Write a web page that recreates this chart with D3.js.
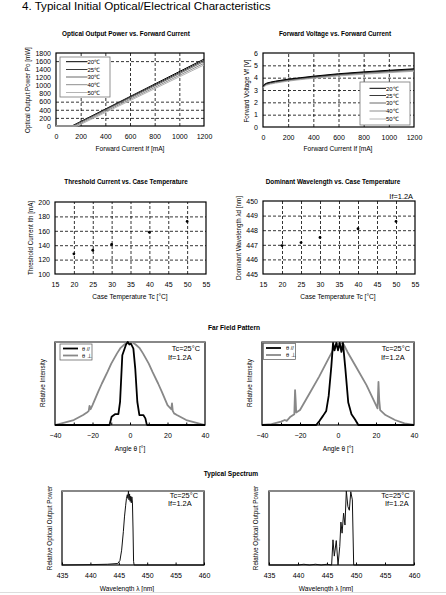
<!DOCTYPE html>
<html>
<head>
<meta charset="utf-8">
<script src="https://cdn.jsdelivr.net/npm/d3@7"></script>
<style>
  body { margin: 0; background: #fff; }
  text { font-family: "Liberation Sans", Arial, sans-serif; fill: #000; }
</style>
</head>
<body>
<div id="chart"></div>
<script>
// ---- data ----
var tempLabels = ["20℃", "25℃", "30℃", "40℃", "50℃"];
var tempColors = ["#000", "#3a3a3a", "#6a6a6a", "#8e8e8e", "#b4b4b4"];

// optical output power vs forward current (threshold, power at 1200 mA)
var caseTemps = [20, 25, 30, 40, 50];
var thresholdCurrent = [128, 133, 141, 158, 173];
var powerAt1200 = [1650, 1620, 1590, 1545, 1505];

// forward voltage vs forward current
var vfCurrent = [2, 10, 30, 60, 100, 200, 300, 400, 600, 800, 1000, 1200];
var vf20 = [3.30, 3.45, 3.56, 3.64, 3.72, 3.88, 4.00, 4.12, 4.32, 4.47, 4.60, 4.72];
var vf25 = [3.28, 3.42, 3.53, 3.61, 3.69, 3.85, 3.97, 4.08, 4.28, 4.43, 4.56, 4.68];
var vf30 = [3.25, 3.39, 3.50, 3.58, 3.66, 3.82, 3.94, 4.05, 4.25, 4.40, 4.52, 4.64];
var vf40 = [3.20, 3.34, 3.45, 3.53, 3.61, 3.77, 3.89, 4.00, 4.20, 4.34, 4.46, 4.58];
var vf50 = [3.15, 3.29, 3.40, 3.48, 3.56, 3.72, 3.84, 3.95, 4.14, 4.28, 4.40, 4.52];

// dominant wavelength vs case temperature
var dominantWl = [446.95, 447.15, 447.5, 448.1, 448.6];

// far field pattern, left sample
var ffAngleParL = [-40, -11, -10.7, -9.8, -8, -6.2, -5.3, -4.1, -2.1, -1.2, -0.35, 0.5, 1.8, 2.8, 3.9, 5, 7.1, 8.2, 8.9, 9.2, 40];
var ffParL = [0, 0, 0.02, 0.1, 0.13, 0.13, 0.28, 0.84, 0.97, 1.0, 0.97, 0.98, 0.92, 0.68, 0.28, 0.12, 0.12, 0.08, 0.01, 0, 0];
var ffAnglePerpL = [-40, -35, -30, -25, -23, -22, -21.6, -21, -20, -17, -15, -12, -10, -7, -5, -3, -1, 0, 1, 3, 5, 7, 10, 12, 15, 17, 20, 22, 22.4, 22.8, 23.5, 25, 30, 35, 40];
var ffPerpL = [0, 0.03, 0.06, 0.12, 0.15, 0.17, 0.23, 0.19, 0.24, 0.4, 0.5, 0.64, 0.74, 0.86, 0.93, 0.97, 1.0, 1.0, 1.0, 0.97, 0.93, 0.86, 0.74, 0.64, 0.5, 0.4, 0.24, 0.19, 0.26, 0.17, 0.14, 0.12, 0.06, 0.03, 0];

// far field pattern, right sample
var ffAngleParR = [-40, -11.5, -9.7, -7.9, -6.2, -4.9, -3.5, -2.6, -1.8, -0.9, 0, 0.9, 1.8, 2.6, 3.9, 5.4, 7.1, 8.9, 10.7, 40];
var ffParR = [0, 0, 0.05, 0.11, 0.17, 0.35, 0.71, 0.99, 0.9, 0.99, 0.9, 0.99, 0.88, 0.99, 0.67, 0.27, 0.13, 0.07, 0, 0];
var ffAnglePerpR = [-40, -35, -30, -28, -27, -25, -23, -22.6, -22.3, -22, -20, -15, -10, -5, -2, 0, 1, 3, 5, 10, 15, 20, 20.8, 21.3, 21.7, 22.2, 25, 30, 35, 40];
var ffPerpR = [0, 0.01, 0.04, 0.06, 0.05, 0.1, 0.13, 0.42, 0.3, 0.15, 0.18, 0.38, 0.58, 0.8, 0.93, 0.99, 1.0, 0.97, 0.88, 0.68, 0.48, 0.24, 0.2, 0.52, 0.3, 0.18, 0.12, 0.06, 0.02, 0];

// typical spectrum
var specWlL = [435, 440, 443, 444.8, 445.2, 445.5, 445.8, 446.0, 446.2, 446.35, 446.5, 446.6, 446.7, 446.8, 446.9, 447.0, 447.1, 447.2, 447.3, 447.4, 447.5, 447.6, 447.7, 460];
var specL = [0, 0.005, 0.01, 0.02, 0.06, 0.2, 0.45, 0.65, 0.8, 0.9, 0.95, 0.9, 1.0, 0.88, 0.96, 0.86, 0.93, 0.84, 0.92, 0.85, 0.5, 0.05, 0, 0];
var specWlR = [435, 440, 441, 442, 443, 444, 445, 445.8, 446.03, 446.26, 446.6, 446.9, 447.2, 447.4, 447.6, 447.86, 448.1, 448.33, 448.6, 448.85, 449.1, 449.37, 449.6, 449.8, 460];
var specR = [0, 0, 0.01, 0, 0.01, 0, 0.01, 0, 0.34, 0.12, 0.33, 0, 0.25, 0.58, 0.43, 0.7, 0.54, 1.0, 0.79, 0.74, 0.99, 0.88, 0, 0, 0];

// axis ticks
var currentTicks = [0, 200, 400, 600, 800, 1000, 1200];
var powerTicks = [0, 200, 400, 600, 800, 1000, 1200, 1400, 1600, 1800];
var powerGrid = [200, 400, 600, 1600];
var voltTicks = [0, 1, 2, 3, 4, 5, 6];
var tempTicks = [15, 20, 25, 30, 35, 40, 45, 50, 55];
var ithTicks = [100, 120, 140, 160, 180, 200];
var wlTicks = [445, 446, 447, 448, 449, 450];
var angleTicks = [-40, -20, 0, 20, 40];
var angleMinor = [-30, -20, -10, 0, 10, 20, 30];
var specTicks = [435, 440, 445, 450, 455, 460];

var svg = d3.select("#chart").append("svg")
  .attr("width", 446)
  .attr("height", 595);

svg.append("text")
  .attr("x", 22).attr("y", 10)
  .style("font-size", "11.6px")
  .text("4. Typical Initial Optical/Electrical Characteristics");

// builds one framed plot, returns scales
function panel(c) {
  var x = d3.scaleLinear().domain(c.xDomain).range([c.left, c.right]);
  var y = d3.scaleLinear().domain(c.yDomain).range([c.bottom, c.top]);
  var g = svg.append("g");
  var w = c.right - c.left, h = c.bottom - c.top;

  if (c.xGrid) {
    g.append("g")
      .attr("transform", "translate(0," + c.bottom + ")")
      .call(d3.axisBottom(x).tickValues(c.xGrid).tickSize(-h).tickFormat(""))
      .call(function(a) {
        a.select(".domain").remove();
        a.selectAll("line").attr("stroke", "#000").attr("stroke-width", 0.8).attr("stroke-dasharray", "3,2");
      });
  }
  if (c.yGrid) {
    g.append("g")
      .attr("transform", "translate(" + c.left + ",0)")
      .call(d3.axisLeft(y).tickValues(c.yGrid).tickSize(-w).tickFormat(""))
      .call(function(a) {
        a.select(".domain").remove();
        a.selectAll("line").attr("stroke", "#000").attr("stroke-width", 0.8).attr("stroke-dasharray", "3,2");
      });
  }
  if (c.xMinor) {
    g.append("g")
      .attr("transform", "translate(0," + c.bottom + ")")
      .call(d3.axisBottom(x).tickValues(c.xMinor).tickSize(-2.5).tickFormat(""))
      .call(function(a) { a.select(".domain").remove(); a.selectAll("line").attr("stroke", "#000"); });
  }

  // tick labels
  g.append("g")
    .attr("transform", "translate(0," + c.bottom + ")")
    .call(d3.axisBottom(x).tickValues(c.xTicks).tickSize(0).tickPadding(8.5).tickFormat(d3.format("d")))
    .call(function(a) {
      a.select(".domain").remove();
      a.selectAll("text").style("font-size", "7px").attr("font-family", null);
    });
  if (c.yTicks) {
    g.append("g")
      .attr("transform", "translate(" + c.left + ",0)")
      .call(d3.axisLeft(y).tickValues(c.yTicks).tickSize(0).tickPadding(5).tickFormat(d3.format("d")))
      .call(function(a) {
        a.select(".domain").remove();
        a.selectAll("text").style("font-size", "7px").attr("font-family", null);
      });
  }

  g.append("rect")
    .attr("x", c.left).attr("y", c.top)
    .attr("width", w).attr("height", h)
    .attr("fill", "none").attr("stroke", "#000").attr("stroke-width", 1.2);

  if (c.title) {
    svg.append("text")
      .attr("x", c.titleX).attr("y", c.titleY)
      .attr("text-anchor", "middle")
      .style("font-size", "6.4px").style("font-weight", "bold")
      .text(c.title);
  }
  svg.append("text")
    .attr("x", c.xLabelX).attr("y", c.xLabelY)
    .attr("text-anchor", "middle")
    .style("font-size", "6.6px")
    .text(c.xLabel);
  svg.append("text")
    .attr("transform", "translate(" + c.yLabelX + "," + c.yLabelY + ") rotate(-90)")
    .attr("text-anchor", "middle")
    .style("font-size", "6.3px")
    .text(c.yLabel);

  return { x: x, y: y, g: g, c: c };
}

function drawLine(p, xs, ys, color, width) {
  var pts = xs.map(function(d, i) { return [d, ys[i]]; });
  var line = d3.line()
    .x(function(d) { return p.x(d[0]); })
    .y(function(d) { return p.y(d[1]); });
  p.g.append("path")
    .datum(pts)
    .attr("d", line)
    .attr("fill", "none")
    .attr("stroke", color)
    .attr("stroke-width", width)
    .attr("stroke-linejoin", "round");
}

function tempLegend(p, bx, by, bw, bh, rows, lx0, lx1) {
  p.g.append("rect")
    .attr("x", bx).attr("y", by).attr("width", bw).attr("height", bh)
    .attr("fill", "#fff").attr("stroke", "#777").attr("stroke-width", 0.8);
  tempLabels.forEach(function(t, i) {
    p.g.append("line")
      .attr("x1", lx0).attr("x2", lx1).attr("y1", rows[i]).attr("y2", rows[i])
      .attr("stroke", tempColors[i]).attr("stroke-width", 1);
    p.g.append("text")
      .attr("x", lx1).attr("y", rows[i] + 2.2)
      .style("font-size", "6px")
      .text(t);
  });
}

function condText(p, xr, xl, y1, y2) {
  p.g.append("text").attr("x", xr).attr("y", y1).attr("text-anchor", "end")
    .style("font-size", "7.4px").text("Tc=25°C");
  p.g.append("text").attr("x", xl).attr("y", y2)
    .style("font-size", "7.4px").text("If=1.2A");
}

function ffLegend(p, bx, by, bw, bh, lx0, lx1, tx) {
  p.g.append("rect")
    .attr("x", bx).attr("y", by).attr("width", bw).attr("height", bh)
    .attr("fill", "#fff").attr("stroke", "#555").attr("stroke-width", 0.7);
  var items = [["θ //", "#000"], ["θ ⊥", "#888"]];
  items.forEach(function(it, i) {
    var yy = by + 4.5 + i * 7;
    p.g.append("line").attr("x1", lx0).attr("x2", lx1).attr("y1", yy).attr("y2", yy)
      .attr("stroke", it[1]).attr("stroke-width", 1.8);
    p.g.append("text").attr("x", tx).attr("y", yy + 2)
      .style("font-size", "5.6px").text(it[0]);
  });
}

function topEdge(p) {
  p.g.append("line")
    .attr("x1", p.c.left).attr("x2", p.c.right)
    .attr("y1", p.c.top).attr("y2", p.c.top)
    .attr("stroke", "#888").attr("stroke-width", 2);
}

// ---- 1: optical output power vs forward current ----
var p1 = panel({
  left: 56, right: 204, top: 53, bottom: 126,
  xDomain: [0, 1200], yDomain: [0, 1800],
  xTicks: currentTicks, yTicks: powerTicks,
  xGrid: [200, 400, 600, 800, 1000], yGrid: powerGrid,
  title: "Optical Output Power vs. Forward Current", titleX: 126, titleY: 35.5,
  xLabel: "Forward Current  If [mA]", xLabelX: 130, xLabelY: 151,
  yLabel: "Optical Output Power  Po [mW]", yLabelX: 29.5, yLabelY: 90
});
caseTemps.forEach(function(t, i) {
  drawLine(p1, [0, thresholdCurrent[i], 1200], [0, 0, powerAt1200[i]], tempColors[i], 1);
});
tempLegend(p1, 60, 57, 50, 40, [61.7, 69.5, 77, 84.7, 92.5], 66, 87.5);

// ---- 2: forward voltage vs forward current ----
var p2 = panel({
  left: 263, right: 414, top: 53, bottom: 127,
  xDomain: [0, 1200], yDomain: [0, 6],
  xTicks: currentTicks, yTicks: voltTicks,
  xGrid: [200, 400, 600, 800, 1000], yGrid: [1, 2, 3, 4, 5],
  title: "Forward Voltage vs. Forward Current", titleX: 335, titleY: 35.5,
  xLabel: "Forward Current  If [mA]", xLabelX: 338, xLabelY: 151,
  yLabel: "Forward Voltage   Vf [V]", yLabelX: 248.5, yLabelY: 91
});
[vf50, vf40, vf30, vf25, vf20].forEach(function(v, k) {
  drawLine(p2, vfCurrent, v, tempColors[4 - k], 1);
});
tempLegend(p2, 360, 82, 50, 43, [88.3, 95.5, 103, 111, 119], 369.5, 386);

// ---- 3: threshold current vs case temperature ----
var p3 = panel({
  left: 55, right: 206, top: 202, bottom: 274,
  xDomain: [15, 55], yDomain: [100, 200],
  xTicks: tempTicks, yTicks: ithTicks,
  xGrid: [20, 25, 30, 35, 40, 45, 50], yGrid: [120, 140, 160, 180],
  title: "Threshold Current vs. Case Temperature", titleX: 126, titleY: 184,
  xLabel: "Case Temperature   Tc [°C]", xLabelX: 130, xLabelY: 299,
  yLabel: "Threshold Current   Ith [mA]", yLabelX: 32.5, yLabelY: 238
});
p3.g.selectAll(".pt").data(caseTemps).enter().append("circle")
  .attr("cx", function(d) { return p3.x(d); })
  .attr("cy", function(d, i) { return p3.y(thresholdCurrent[i]); })
  .attr("r", 1.4).attr("fill", "#000");

// ---- 4: dominant wavelength vs case temperature ----
var p4 = panel({
  left: 263, right: 415, top: 201, bottom: 274,
  xDomain: [15, 55], yDomain: [445, 450],
  xTicks: tempTicks, yTicks: wlTicks,
  xGrid: [20, 25, 30, 35, 40, 45, 50], yGrid: [446, 447, 448, 449],
  title: "Dominant Wavelength vs. Case Temperature", titleX: 333, titleY: 184,
  xLabel: "Case Temperature   Tc [°C]", xLabelX: 338, xLabelY: 299,
  yLabel: "Dominant Wavelength λd [nm]", yLabelX: 240.5, yLabelY: 238
});
p4.g.selectAll(".pt").data(caseTemps).enter().append("circle")
  .attr("cx", function(d) { return p4.x(d); })
  .attr("cy", function(d, i) { return p4.y(dominantWl[i]); })
  .attr("r", 1.4).attr("fill", "#000");
p4.g.append("text").attr("x", 413).attr("y", 199).attr("text-anchor", "end")
  .style("font-size", "7.4px").text("If=1.2A");

// ---- 5, 6: far field pattern ----
svg.append("text").attr("x", 234).attr("y", 330).attr("text-anchor", "middle")
  .style("font-size", "6.6px").style("font-weight", "bold").text("Far Field Pattern");

var p5 = panel({
  left: 55, right: 205, top: 342, bottom: 425,
  xDomain: [-40, 40], yDomain: [0, 1],
  xTicks: angleTicks, xMinor: angleMinor,
  xLabel: "Angle  θ [°]", xLabelX: 130, xLabelY: 450.5,
  yLabel: "Relative Intensity", yLabelX: 44.5, yLabelY: 383
});
topEdge(p5);
drawLine(p5, ffAnglePerpL, ffPerpL, "#888", 1.8);
drawLine(p5, ffAngleParL, ffParL, "#000", 1.8);
ffLegend(p5, 60, 344, 32, 16, 63, 78, 82);
condText(p5, 200, 168, 351, 360);

var p6 = panel({
  left: 262, right: 414, top: 342, bottom: 425,
  xDomain: [-40, 40], yDomain: [0, 1],
  xTicks: angleTicks, xMinor: angleMinor,
  xLabel: "Angle  θ [°]", xLabelX: 338, xLabelY: 450.5,
  yLabel: "Relative Intensity", yLabelX: 252, yLabelY: 383
});
topEdge(p6);
drawLine(p6, ffAnglePerpR, ffPerpR, "#888", 1.8);
drawLine(p6, ffAngleParR, ffParR, "#000", 1.8);
ffLegend(p6, 263.5, 343.5, 32, 16, 266, 281, 286);
condText(p6, 410, 381, 351, 360);

// ---- 7, 8: typical spectrum ----
svg.append("text").attr("x", 231).attr("y", 476).attr("text-anchor", "middle")
  .style("font-size", "6.6px").style("font-weight", "bold").text("Typical Spectrum");

var p7 = panel({
  left: 62, right: 204, top: 491, bottom: 565,
  xDomain: [435, 460], yDomain: [0, 1],
  xTicks: specTicks, xMinor: specTicks,
  xLabel: "Wavelength λ [nm]", xLabelX: 127, xLabelY: 590.5,
  yLabel: "Relative Optical Output Power", yLabelX: 51.5, yLabelY: 528
});
topEdge(p7);
drawLine(p7, specWlL, specL, "#111", 1);
condText(p7, 198, 168, 497.5, 505.5);

var p8 = panel({
  left: 269, right: 414, top: 491, bottom: 565,
  xDomain: [435, 460], yDomain: [0, 1],
  xTicks: specTicks, xMinor: specTicks,
  xLabel: "Wavelength λ [nm]", xLabelX: 326, xLabelY: 590.5,
  yLabel: "Relative Optical Output Power", yLabelX: 257.5, yLabelY: 528
});
topEdge(p8);
drawLine(p8, specWlR, specR, "#111", 1);
condText(p8, 409.5, 385, 497.5, 505.5);

// faint page edge at the bottom
svg.append("line").attr("x1", 0).attr("x2", 446).attr("y1", 592.5).attr("y2", 592.5)
  .attr("stroke", "#ddd").attr("stroke-width", 1);
</script>
</body>
</html>
